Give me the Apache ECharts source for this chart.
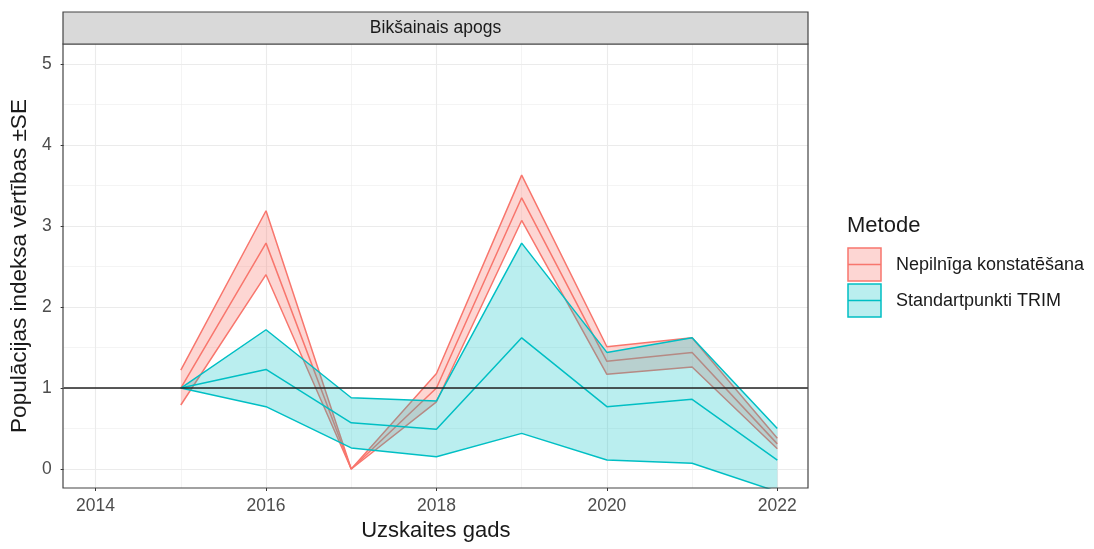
<!DOCTYPE html>
<html>
<head>
<meta charset="utf-8">
<script src="https://cdn.jsdelivr.net/npm/echarts@6/dist/echarts.min.js"></script>
<style>
  html, body { margin: 0; padding: 0; background: #fff; }
  #chart { width: 1094px; height: 549px; }
</style>
</head>
<body>
<div id="chart"></div>
<script>
const years = [2015, 2016, 2017, 2018, 2019, 2020, 2021, 2022]
const nepMean = [1.0, 2.79, 0, 1.0, 3.35, 1.33, 1.44, 0.31]
const nepLower = [0.79, 2.40, 0, 0.83, 3.07, 1.17, 1.26, 0.25]
const nepUpper = [1.22, 3.19, 0, 1.18, 3.63, 1.51, 1.62, 0.38]
const trimMean = [1, 1.23, 0.57, 0.49, 1.62, 0.77, 0.86, 0.11]
const trimLower = [1, 0.77, 0.26, 0.15, 0.44, 0.11, 0.07, -0.28]
const trimUpper = [1, 1.72, 0.88, 0.84, 2.79, 1.44, 1.62, 0.50]
const xTicks = [2014, 2016, 2018, 2020, 2022]
const xMinor = [2015, 2017, 2019, 2021]
const yTicks = [0, 1, 2, 3, 4, 5]
const yMinor = [0.5, 1.5, 2.5, 3.5, 4.5]

const RED = '#F8766D'
const CYAN = '#00BFC4'
const FONT = 'Liberation Sans, Arial, sans-serif'
const panel = { left: 63, top: 44, width: 745, height: 444 }

const pairs = (vals) => years.map((y, i) => [y, vals[i]])

// one polygon per ribbon: upper edge left to right, lower edge back
function ribbon(name, lower, upper, mean, color, fill) {
  return [
    {
      name: name + '_band', type: 'custom', clip: true, z: 2, silent: true,
      data: years.map((y, i) => [y, lower[i], upper[i]]),
      renderItem: function (params, api) {
        if (params.dataIndex !== 0) return
        const pts = []
        years.forEach((y, i) => pts.push(api.coord([y, upper[i]])))
        for (let i = years.length - 1; i >= 0; i--) pts.push(api.coord([years[i], lower[i]]))
        return { type: 'polygon', shape: { points: pts }, style: { fill: fill, stroke: null } }
      }
    },
    { name: name + '_lo', type: 'line', data: pairs(lower), symbol: 'none', lineStyle: { color: color, width: 1.5 }, z: 3 },
    { name: name + '_hi', type: 'line', data: pairs(upper), symbol: 'none', lineStyle: { color: color, width: 1.5 }, z: 3 },
    { name: name + '_mean', type: 'line', data: pairs(mean), symbol: 'none', lineStyle: { color: color, width: 1.5 }, z: 3 }
  ]
}

const gridLines = []
xTicks.forEach(v => gridLines.push({ xAxis: v, lineStyle: { width: 1.1 } }))
xMinor.forEach(v => gridLines.push({ xAxis: v, lineStyle: { width: 0.55 } }))
yTicks.forEach(v => gridLines.push({ yAxis: v, lineStyle: { width: 1.1 } }))
yMinor.forEach(v => gridLines.push({ yAxis: v, lineStyle: { width: 0.55 } }))

const nepSeries = ribbon('Nepilnīga konstatēšana', nepLower, nepUpper, nepMean, RED, 'rgba(248,118,109,0.3)')
const trimSeries = ribbon('Standartpunkti TRIM', trimLower, trimUpper, trimMean, CYAN, 'rgba(0,191,196,0.27)')
// ggplot draws group 2 over group 1
trimSeries.forEach(s => { s.z += 2 })

const chart = echarts.init(document.getElementById('chart'))
chart.setOption({
  animation: false,
  backgroundColor: '#ffffff',
  textStyle: { fontFamily: FONT },
  grid: panel,
  xAxis: {
    type: 'value',
    min: 2013.625,
    max: 2022.36,
    splitLine: { show: false },
    axisLine: { show: false, onZero: false },
    axisTick: { show: true, customValues: xTicks, length: 3, lineStyle: { color: '#333333' } },
    axisLabel: { customValues: xTicks, formatter: v => String(v), color: '#4d4d4d', fontSize: 17.5, margin: 9, fontFamily: FONT },
    name: 'Uzskaites gads',
    nameLocation: 'middle',
    nameGap: 31,
    nameTextStyle: { fontSize: 22, color: '#1a1a1a', fontFamily: FONT }
  },
  yAxis: {
    type: 'value',
    min: -0.235,
    max: 5.25,
    splitLine: { show: false },
    axisLine: { show: false, onZero: false },
    axisTick: { show: true, customValues: yTicks, length: 3, lineStyle: { color: '#333333' } },
    axisLabel: { customValues: yTicks, formatter: v => String(v), color: '#4d4d4d', fontSize: 17.5, margin: 12, fontFamily: FONT },
    name: 'Populācijas indeksa vērtības ±SE',
    nameLocation: 'middle',
    nameGap: 28,
    nameTextStyle: { fontSize: 22.5, color: '#1a1a1a', fontFamily: FONT }
  },
  series: [
    {
      name: 'grid', type: 'line', data: [], z: 0, silent: true,
      markLine: {
        z: 0, silent: true, symbol: 'none', label: { show: false }, animation: false,
        lineStyle: { color: '#ebebeb', type: 'solid' },
        data: gridLines
      }
    },
    ...nepSeries,
    ...trimSeries,
    {
      name: 'ref', type: 'line', data: [], z: 10, silent: true,
      markLine: {
        z: 10, silent: true, symbol: 'none', label: { show: false }, animation: false,
        lineStyle: { color: '#222222', width: 1.5, type: 'solid' },
        data: [{ yAxis: 1 }]
      }
    }
  ],
  graphic: [
    {
      type: 'rect', z: 100,
      shape: { x: panel.left, y: panel.top, width: panel.width, height: panel.height },
      style: { fill: 'none', stroke: '#444444', lineWidth: 1.2 }
    },
    {
      type: 'rect', z: 100,
      shape: { x: panel.left, y: 12, width: panel.width, height: 32 },
      style: { fill: '#d9d9d9', stroke: '#444444', lineWidth: 1.2 }
    },
    {
      type: 'text', z: 101, x: panel.left + panel.width / 2, y: 28,
      style: { text: 'Bikšainais apogs', fill: '#1a1a1a', font: '17.5px ' + FONT, align: 'center', verticalAlign: 'middle' }
    },
    {
      type: 'text', z: 101, x: 847, y: 226,
      style: { text: 'Metode', fill: '#1a1a1a', font: '22px ' + FONT, align: 'left', verticalAlign: 'middle' }
    },
    {
      type: 'rect', z: 101,
      shape: { x: 848, y: 248, width: 33, height: 33 },
      style: { fill: 'rgba(248,118,109,0.3)', stroke: RED, lineWidth: 1.5 }
    },
    {
      type: 'line', z: 102,
      shape: { x1: 848, y1: 264.5, x2: 881, y2: 264.5 },
      style: { stroke: RED, lineWidth: 1.5 }
    },
    {
      type: 'rect', z: 101,
      shape: { x: 848, y: 284, width: 33, height: 33 },
      style: { fill: 'rgba(0,191,196,0.27)', stroke: CYAN, lineWidth: 1.5 }
    },
    {
      type: 'line', z: 102,
      shape: { x1: 848, y1: 300.5, x2: 881, y2: 300.5 },
      style: { stroke: CYAN, lineWidth: 1.5 }
    },
    {
      type: 'text', z: 101, x: 896, y: 265,
      style: { text: 'Nepilnīga konstatēšana', fill: '#1a1a1a', font: '18px ' + FONT, align: 'left', verticalAlign: 'middle' }
    },
    {
      type: 'text', z: 101, x: 896, y: 301,
      style: { text: 'Standartpunkti TRIM', fill: '#1a1a1a', font: '18px ' + FONT, align: 'left', verticalAlign: 'middle' }
    }
  ]
})
</script>
</body>
</html>
